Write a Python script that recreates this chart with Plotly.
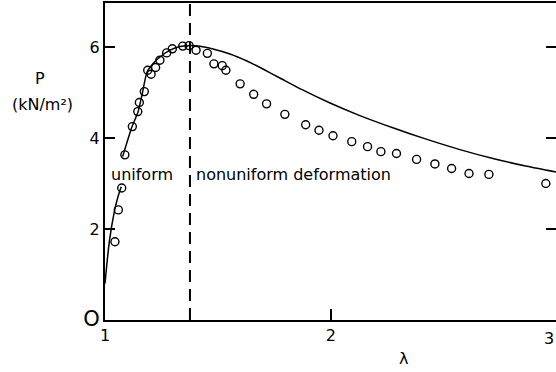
import plotly.graph_objects as go

# Measured pressure P (kN/m^2) against stretch ratio lambda
lam_pts = [1.044, 1.059, 1.074, 1.088, 1.121, 1.145, 1.152, 1.174, 1.189, 1.204,
           1.224, 1.243, 1.273, 1.298, 1.344, 1.372, 1.403, 1.453, 1.482, 1.519,
           1.535, 1.598, 1.658, 1.715, 1.796, 1.888, 1.947, 2.009, 2.092, 2.162,
           2.221, 2.290, 2.379, 2.460, 2.534, 2.611, 2.699, 2.951]
p_pts = [1.72, 2.42, 2.90, 3.63, 4.25, 4.58, 4.78, 5.02, 5.49, 5.40,
         5.55, 5.71, 5.87, 5.96, 6.02, 6.03, 5.93, 5.86, 5.63, 5.59,
         5.49, 5.19, 4.96, 4.75, 4.52, 4.29, 4.17, 4.05, 3.92, 3.81,
         3.70, 3.66, 3.53, 3.43, 3.33, 3.22, 3.20, 3.00]

# Theory, uniform branch
lam_uni = [1.0, 1.02, 1.04, 1.058, 1.072]
p_uni = [0.80, 1.75, 2.35, 2.72, 2.93]

# Theory, second branch
lam_th = [1.078, 1.119, 1.146, 1.164, 1.186, 1.212, 1.243, 1.288, 1.332, 1.372,
          1.420, 1.478, 1.553, 1.628, 1.699, 1.774, 1.872, 1.996, 2.128, 2.274,
          2.425, 2.571, 2.717, 2.867, 2.996]
p_th = [3.59, 4.24, 4.57, 4.95, 5.45, 5.63, 5.78, 5.93, 6.01, 6.03,
        6.015, 5.956, 5.846, 5.692, 5.516, 5.319, 5.062, 4.769, 4.492, 4.224,
        3.969, 3.745, 3.549, 3.378, 3.253]

lam_split = 1.376

x_ticks = [1, 2]
x_ticktext = ["1", "2"]
y_ticks = [0, 2, 4, 6]
y_ticktext = ["<span style='font-size:21px'>O</span>", "2", "4", "6"]

FONT = "DejaVu Sans"
X_MAX = 2.996
Y_MAX = 6.967

fig = go.Figure()

fig.add_trace(go.Scatter(x=lam_uni, y=p_uni, mode="lines", line_shape="spline",
                         line=dict(color="black", width=1.5), showlegend=False))
fig.add_trace(go.Scatter(x=lam_th, y=p_th, mode="lines", line_shape="spline",
                         line=dict(color="black", width=1.5, smoothing=0.6),
                         showlegend=False))
fig.add_trace(go.Scatter(x=lam_pts, y=p_pts, mode="markers",
                         marker=dict(symbol="circle-open", size=8, color="black",
                                     line=dict(width=1.4, color="black")),
                         showlegend=False))

# regime boundary
fig.add_shape(type="line", xref="x", yref="y", x0=lam_split, x1=lam_split,
              y0=0, y1=Y_MAX, line=dict(color="black", width=2, dash="12px,7px"))

# inward ticks on the right-hand side
for yv in [2, 4, 6]:
    fig.add_shape(type="line", xref="x", yref="y", x0=2.952, x1=X_MAX,
                  y0=yv, y1=yv, line=dict(color="black", width=2))

txt = dict(family=FONT, size=16, color="black")
fig.add_annotation(x=1.164, y=3.19, xref="x", yref="y", text="uniform",
                   showarrow=False, font=txt)
fig.add_annotation(x=1.395, y=3.19, xref="x", yref="y", text="nonuniform deformation",
                   xanchor="left", showarrow=False, font=txt)
fig.add_annotation(x=-0.1441, y=0.763, xref="paper", yref="paper", text="P",
                   xanchor="center", yanchor="middle", showarrow=False, font=txt)
fig.add_annotation(x=-0.1375, y=0.681, xref="paper", yref="paper", text="(kN/m²)",
                   xanchor="center", yanchor="middle", showarrow=False, font=txt)
fig.add_annotation(x=0.661, y=-0.120, xref="paper", yref="paper", text="λ",
                   xanchor="center", yanchor="middle", showarrow=False, font=txt)
# tick label for lambda = 3, tucked in against the right edge
fig.add_annotation(x=1.0, y=-0.057, xref="paper", yref="paper", text="3",
                   xanchor="right", yanchor="middle", showarrow=False, font=txt)

fig.update_xaxes(range=[1, X_MAX], showgrid=False, zeroline=False,
                 showline=True, linecolor="black", linewidth=2, mirror=True,
                 ticks="inside", ticklen=11, tickwidth=2, tickcolor="black",
                 tickvals=x_ticks, ticktext=x_ticktext,
                 tickfont=dict(family=FONT, size=16, color="black"))
fig.update_yaxes(range=[0, Y_MAX], showgrid=False, zeroline=False,
                 showline=True, linecolor="black", linewidth=2,
                 ticks="inside", ticklen=10, tickwidth=2, tickcolor="black",
                 tickvals=y_ticks, ticktext=y_ticktext,
                 tickfont=dict(family=FONT, size=16, color="black"))

fig.update_layout(width=556, height=372,
                  margin=dict(l=105, r=0, t=3, b=52),
                  paper_bgcolor="white", plot_bgcolor="white")

fig.write_html("out.html")
